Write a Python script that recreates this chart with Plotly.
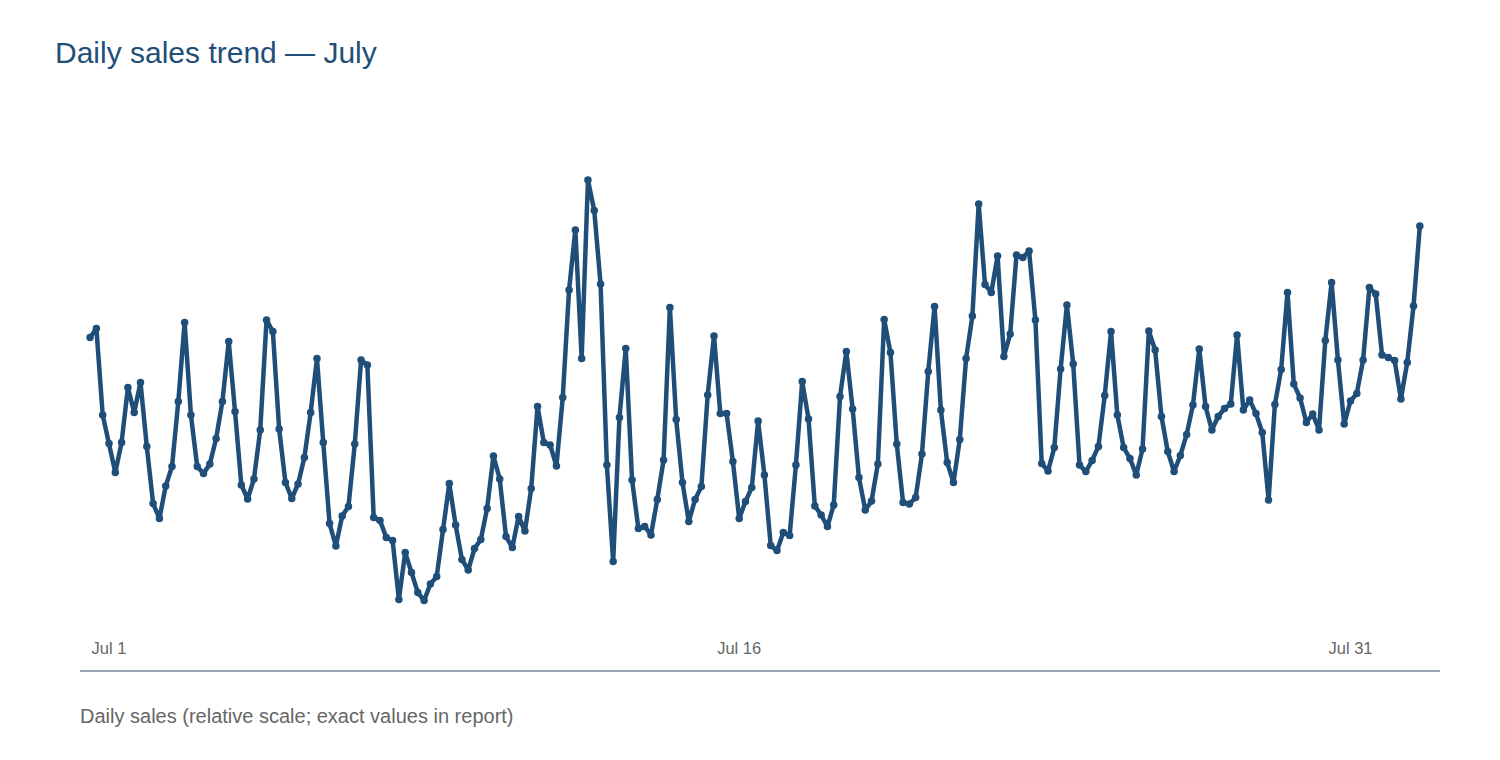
import plotly.graph_objects as go

# Dados (escala relativa)
vendas = [
    66.5, 68.3, 51.0, 45.3, 39.5, 45.5, 56.5, 51.5, 57.5, 44.7,
    33.3, 30.3, 36.8, 40.7, 53.7, 69.5, 51.0, 40.7, 39.3, 41.2,
    46.3, 53.7, 65.7, 51.7, 37.0, 34.2, 38.2, 48.0, 70.0, 67.7,
    48.2, 37.5, 34.3, 37.2, 42.5, 51.5, 62.3, 45.5, 29.3, 24.8,
    30.8, 32.7, 45.2, 62.0, 61.0, 30.5, 29.9, 26.5, 25.9, 14.1,
    23.5, 19.5, 15.5, 13.9, 17.2, 18.7, 28.1, 37.3, 29.0, 22.1,
    20.0, 24.3, 26.1, 32.3, 42.8, 38.2, 26.7, 24.5, 30.7, 27.8,
    36.3, 52.7, 45.5, 45.0, 40.8, 54.5, 76.0, 88.0, 62.3, 98.0,
    91.9, 77.2, 41.0, 21.7, 50.5, 64.3, 38.0, 28.3, 28.7, 27.0,
    34.1, 42.0, 72.5, 50.1, 37.5, 29.7, 34.1, 36.7, 55.0, 66.8,
    51.3, 51.3, 41.7, 30.3, 33.7, 36.5, 49.8, 39.0, 24.9, 23.9,
    27.5, 26.9, 41.0, 57.7, 50.2, 32.8, 31.0, 28.7, 33.0, 54.7,
    63.7, 52.2, 38.5, 32.0, 33.8, 41.2, 70.1, 63.5, 45.2, 33.5,
    33.2, 34.5, 43.2, 59.7, 72.7, 52.0, 41.5, 37.5, 46.1, 62.3,
    70.8, 93.2, 77.1, 75.5, 82.8, 62.7, 67.2, 83.0, 82.5, 83.8,
    70.0, 41.3, 39.8, 44.5, 60.2, 73.0, 61.2, 41.0, 39.7, 41.9,
    44.7, 54.9, 67.7, 51.0, 44.5, 42.3, 39.0, 44.2, 67.8, 64.0,
    50.7, 43.7, 39.7, 42.9, 47.1, 53.0, 64.2, 52.7, 48.0, 50.7,
    52.3, 53.2, 67.0, 52.0, 54.0, 51.3, 47.5, 34.0, 53.1, 60.1,
    75.5, 57.2, 54.4, 49.5, 51.2, 48.0, 65.9, 77.5, 62.0, 49.2,
    53.8, 55.3, 62.0, 76.5, 75.2, 63.0, 62.5, 61.9, 54.2, 61.5,
    72.8, 88.8,
]
idx = list(range(len(vendas)))
tick_pos = [3, 103, 200]
tick_txt = ['Jul 1', 'Jul 16', 'Jul 31']

azul = '#1f4e79'
fonte = 'Liberation Sans, Arial'

fig = go.Figure()
fig.add_trace(go.Scatter(x=idx, y=vendas, mode='lines+markers',
                         line=dict(color=azul, width=4.5),
                         marker=dict(color=azul, size=7.5),
                         showlegend=False, hoverinfo='skip'))

fig.update_xaxes(range=[-1.6, 214.2], tickvals=tick_pos, ticktext=tick_txt,
                 showgrid=False, zeroline=False, showline=True,
                 linecolor='#9aa5b2', linewidth=2, ticks='',
                 ticklabelposition='inside', ticklabelstandoff=13,
                 tickfont=dict(family=fonte, size=16.5, color='#666666'))
fig.update_yaxes(range=[0, 114], visible=False)

fig.update_layout(
    title=dict(text='Daily sales trend — July', x=47/1500, xref='container', xanchor='left',
               y=1 - 44/760, yref='container', yanchor='middle',
               font=dict(family=fonte, size=30, color=azul)),
    annotations=[dict(text='Daily sales (relative scale; exact values in report)',
                      xref='paper', yref='paper', x=-2/1360, y=-46/570, xanchor='left', yanchor='middle',
                      showarrow=False,
                      font=dict(family=fonte, size=20, color='#666666'))],
    plot_bgcolor='white', paper_bgcolor='white',
    width=1500, height=760,
    margin=dict(l=72, r=68, t=92, b=98),
)
fig.write_html('out.html')
